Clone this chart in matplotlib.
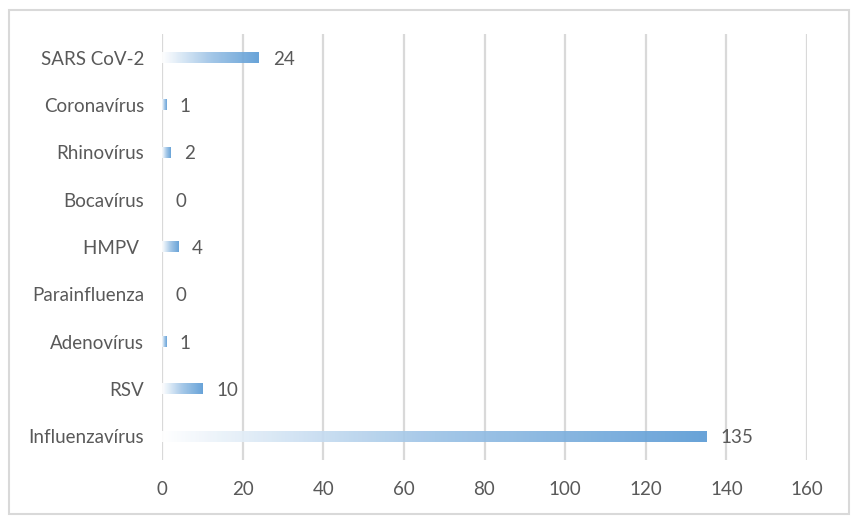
import numpy as np
import matplotlib.pyplot as plt
from matplotlib import colors
from matplotlib.patches import Rectangle

# data, top to bottom as in the chart
viruses = ["SARS CoV-2", "Coronavírus", "Rhinovírus", "Bocavírus", "HMPV ",
           "Parainfluenza", "Adenovírus", "RSV", "Influenzavírus"]
counts = [24, 1, 2, 0, 4, 0, 1, 10, 135]
xticks = [0, 20, 40, 60, 80, 100, 120, 140, 160]

text_col = "#595959"
grid_col = "#D9D9D9"
bar_col = "#5B9BD5"

plt.rcParams['font.family'] = ['Lato', 'DejaVu Sans']

fig = plt.figure(figsize=(8.56, 5.23), dpi=100)
# outer chart border
fig.patches.append(Rectangle((9 / 856, 9 / 523), 840 / 856, 504 / 523,
                             transform=fig.transFigure, fill=False,
                             edgecolor=grid_col, linewidth=1.5))

ax = fig.add_axes([162 / 856, 1 - 460 / 523, 645 / 856, 426 / 523])
n = len(viruses)

cmap = colors.LinearSegmentedColormap.from_list("fade", ["#FFFFFF", "#9DC3E6", bar_col])
grad = np.linspace(0, 1, 256).reshape(1, -1)
h = 0.22
for i, v in enumerate(counts):
    if v > 0:
        ax.imshow(grad, cmap=cmap, aspect="auto", interpolation="bilinear",
                  extent=[0, v, i + h / 2, i - h / 2], zorder=3, alpha=0.92)
    ax.annotate(str(v), (v, i), xytext=(10, -1), textcoords="offset points",
                va="center", ha="left", fontsize=13.5, color=text_col)

ax.set_xlim(0, 160)
ax.set_ylim(n - 0.5, -0.5)
ax.set_xticks(xticks)
ax.set_yticks(range(n))
ax.set_yticklabels(viruses)
ax.tick_params(axis="x", length=0, pad=15, labelsize=13.5, labelcolor=text_col)
ax.tick_params(axis="y", length=0, pad=13, labelsize=13.5, labelcolor=text_col)
for x in xticks:
    ax.axvline(x, color=grid_col, linewidth=1.6, zorder=1)
for s in ax.spines.values():
    s.set_visible(False)

fig.savefig("out.png", dpi=100)
